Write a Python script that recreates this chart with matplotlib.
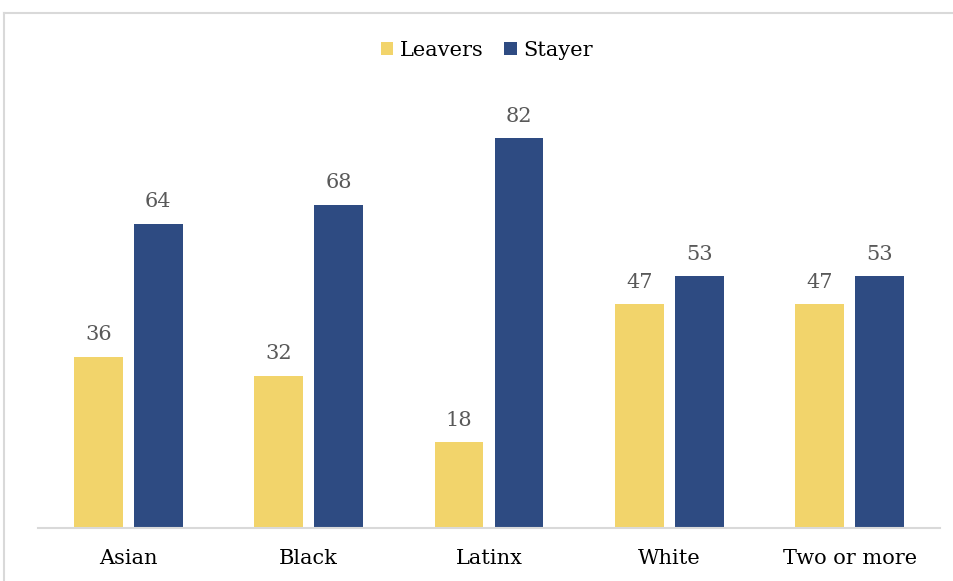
import numpy as np
import matplotlib.pyplot as plt
from matplotlib.lines import Line2D

categories = ['Asian', 'Black', 'Latinx', 'White', 'Two or more']
leavers = [36, 32, 18, 47, 47]
stayer = [64, 68, 82, 53, 53]

plt.rcParams['font.family'] = ['DejaVu Serif']

fig = plt.figure(figsize=(9.54, 5.81), dpi=100)
# outer chart frame (only top and left edges visible)
top = 1 - 12.5 / 581
left = 4.5 / 954
fig.lines.append(Line2D([left, 1], [top, top], transform=fig.transFigure,
                        color='#D9D9D9', linewidth=1.5))
fig.lines.append(Line2D([left, left], [0, top], transform=fig.transFigure,
                        color='#D9D9D9', linewidth=1.5))

ax = fig.add_axes([38 / 954, 53 / 581, 902 / 954, 428 / 581])
x = np.arange(len(categories))
w = 0.27
off = 0.166
b1 = ax.bar(x - off, leavers, w, color='#F2D46B', label='Leavers')
b2 = ax.bar(x + off, stayer, w, color='#2E4B82', label='Stayer')

for bars, vals in [(b1, leavers), (b2, stayer)]:
    for r, v in zip(bars, vals):
        ax.text(r.get_x() + r.get_width() / 2, v + 2.6, str(v),
                ha='center', va='bottom', fontsize=15, color='#595959')

ax.set_xlim(-0.5, 4.5)
ax.set_ylim(0, 90)
ax.set_xticks(x)
ax.set_xticklabels(categories, fontsize=15, color='black')
ax.tick_params(axis='x', length=0, pad=15)
ax.set_yticks([])
for s in ['top', 'right', 'left']:
    ax.spines[s].set_visible(False)
ax.spines['bottom'].set_color('#D9D9D9')
ax.spines['bottom'].set_linewidth(1.5)

fig.legend(loc='center', bbox_to_anchor=(0.51, 1 - 50 / 581), ncol=2,
           frameon=False, fontsize=15, handlelength=0.6, handleheight=0.6,
           handletextpad=0.3, columnspacing=1.0)

fig.savefig('out.png', dpi=100)
